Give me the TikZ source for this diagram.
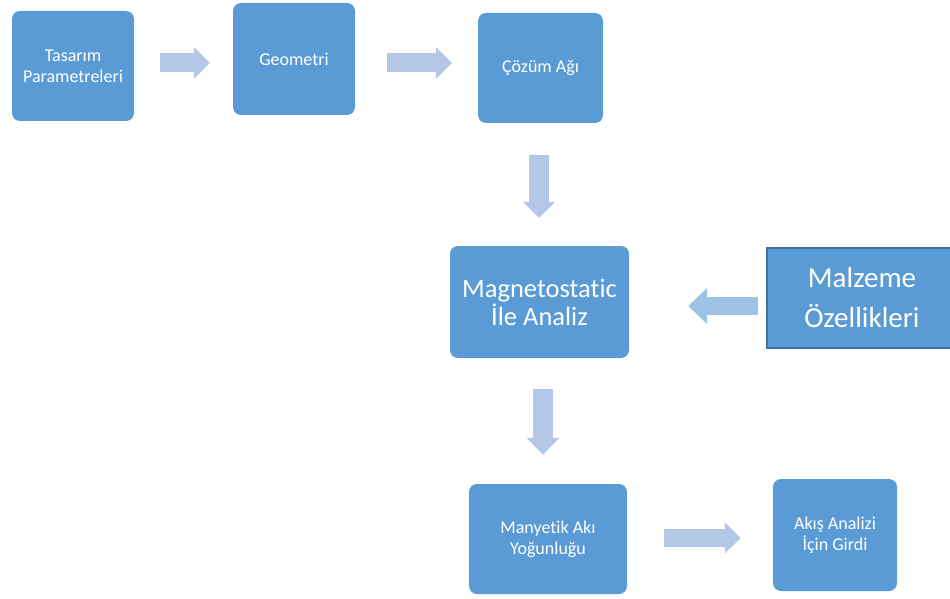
\documentclass[tikz,border=0pt]{standalone}
\usepackage{fontspec}
\setmainfont{Carlito}[Ligatures = CommonOff]
\usetikzlibrary{arrows.meta}
\definecolor{boxblue}{HTML}{5B9BD5}
\definecolor{boxedge}{HTML}{41719C}
\definecolor{arrowblue}{HTML}{B4C7E7}
\definecolor{arrowlight}{HTML}{9DC3E6}
\newcommand\smalltext{\fontsize{18}{21}\selectfont}
\newcommand\bigtext{\fontsize{26.5}{28}\selectfont}
\newcommand\largetext{\fontsize{29}{40}\selectfont}

\begin{document}
\begin{tikzpicture}[x = 1pt, y = -1pt,
    box/.style = {fill = boxblue, text = white, rounded corners = 8pt, align = center, inner sep = 0pt},
    small/.style = {font = \smalltext, minimum width = 122pt, minimum height = 110pt},
    flow/.style = {draw, color = arrowblue, line width = 19pt, -{Triangle[length = 16pt, width = 31pt]}}]
      \useasboundingbox (0, 0) rectangle (950, 599);
      \node[box, small] (tasarim) at (73, 66) {Tasarım\\Parametreleri};
      \node[box, small, minimum height = 112pt] (geometri) at (294, 59) {Geometri};
      \node[box, small, minimum width = 125pt] (cozum) at (540.5, 68) {Çözüm Ağı};
      \node[box, font = \bigtext, minimum width = 179pt, minimum height = 112pt] (magneto) at (539.5, 302) {Magnetostatic\\İle Analiz};
      \node[box, sharp corners, draw = boxedge, line width = 2pt, font = \largetext, minimum width = 190pt, minimum height = 100pt] (malzeme) at (862, 298) {Malzeme\\Özellikleri};
      \node[box, small, minimum width = 158pt] (manyetik) at (548, 539) {Manyetik Akı\\Yoğunluğu};
      \node[box, small, minimum width = 124pt, minimum height = 112pt] (akis) at (835, 535) {Akış Analizi\\İçin Girdi};
      \path ([yshift = 3pt]tasarim.east) edge[flow, shorten < = 26pt, shorten > = 23pt] ([yshift = 3pt]tasarim.east -| geometri.west)
            ([yshift = -4pt]geometri.east) edge[flow, shorten < = 32pt, shorten > = 26pt] ([yshift = -4pt]geometri.east -| cozum.west)
            ([yshift = 1pt]manyetik.east) edge[flow, line width = 18pt, -{Triangle[length = 16pt, width = 30pt]}, shorten < = 37pt, shorten > = 32pt] ([yshift = 1pt]manyetik.east -| akis.west);
      \path ([xshift = -1.5pt]cozum.south) edge[flow, line width = 20pt, shorten < = 32pt, shorten > = 28pt] ([xshift = -1.5pt]cozum.south |- magneto.north)
            ([xshift = 3.5pt]magneto.south) edge[flow, line width = 20pt, -{Triangle[length = 17pt, width = 32pt]}, shorten < = 31pt, shorten > = 29pt] ([xshift = 3.5pt]magneto.south |- manyetik.north);
      \path ([yshift = -8pt]malzeme.west) edge[flow, color = arrowlight, line width = 18pt, -{Triangle[length = 19pt, width = 35pt]}, shorten < = 8pt, shorten > = 59pt] ([yshift = -8pt]malzeme.west -| magneto.east);
    \end{tikzpicture}
\end{document}
